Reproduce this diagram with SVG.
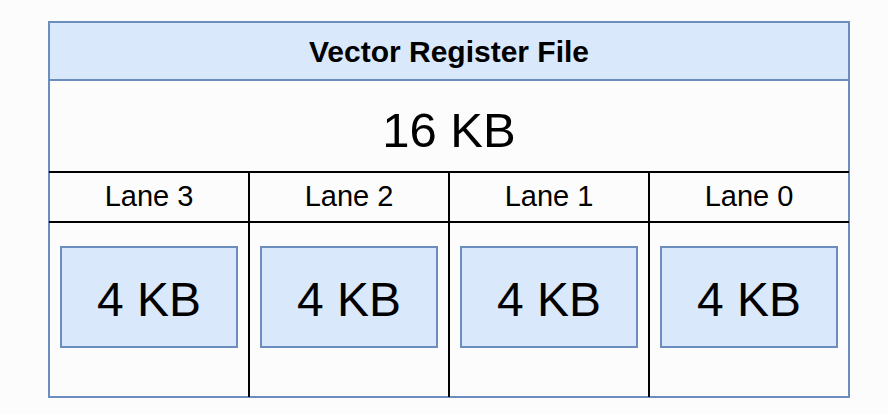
<svg xmlns="http://www.w3.org/2000/svg" width="888" height="414" viewBox="0 0 888 414">
<style>
.blue{fill:#dae8fc;stroke:#6c8ebf;stroke-width:2}
.line{stroke:#000;stroke-width:2;fill:none}
text{font-family:"Liberation Sans",Arial,sans-serif;fill:#000;text-anchor:middle}
.kb{font-size:48px}
.lane{font-size:29px}
</style>
<rect width="888" height="414" fill="#fcfcfc"/>
<g id="vrf">
<rect x="49" y="22" width="800" height="375" fill="#fcfcfc" stroke="#6c8ebf" stroke-width="2"/>
<rect class="blue" x="49" y="22" width="800" height="58"/>
<text x="449" y="62" font-size="30" font-weight="bold">Vector Register File</text>
<text x="449" y="147" font-size="49">16 KB</text>
</g>
<g id="grid">
<line class="line" x1="49" y1="172" x2="849" y2="172"/>
<line class="line" x1="49" y1="222" x2="849" y2="222"/>
<line class="line" x1="249" y1="172" x2="249" y2="397"/>
<line class="line" x1="449" y1="172" x2="449" y2="397"/>
<line class="line" x1="649" y1="172" x2="649" y2="397"/>
</g>
<g id="lane3"><text class="lane" x="149" y="206">Lane 3</text><rect class="blue" x="61" y="247" width="176" height="100"/><text class="kb" x="149" y="316">4 KB</text></g>
<g id="lane2"><text class="lane" x="349" y="206">Lane 2</text><rect class="blue" x="261" y="247" width="176" height="100"/><text class="kb" x="349" y="316">4 KB</text></g>
<g id="lane1"><text class="lane" x="549" y="206">Lane 1</text><rect class="blue" x="461" y="247" width="176" height="100"/><text class="kb" x="549" y="316">4 KB</text></g>
<g id="lane0"><text class="lane" x="749" y="206">Lane 0</text><rect class="blue" x="661" y="247" width="176" height="100"/><text class="kb" x="749" y="316">4 KB</text></g>
</svg>
